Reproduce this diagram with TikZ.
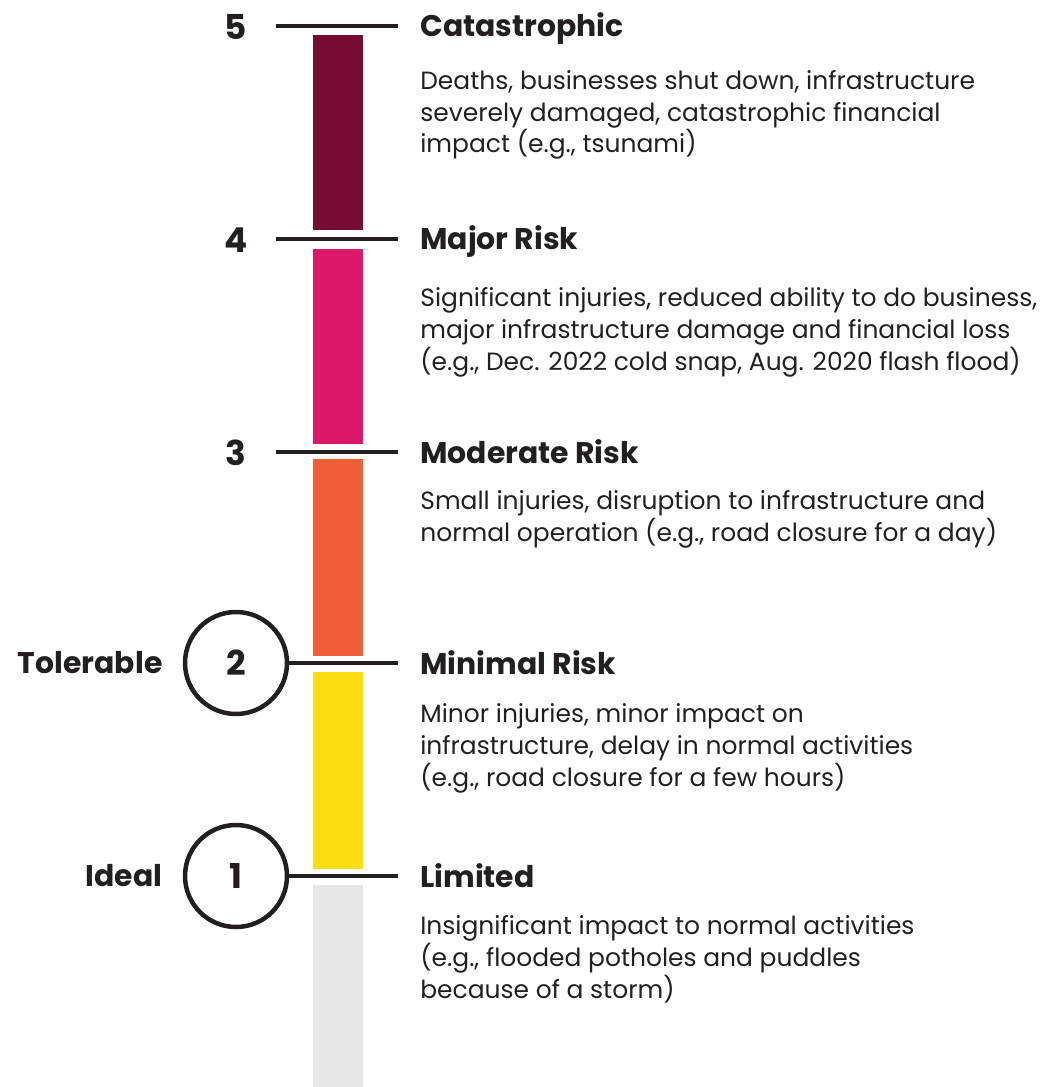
\documentclass[tikz,border=0pt]{standalone}
\usepackage{fontspec}
\setmainfont{Poppins}
\usetikzlibrary{positioning}
\usepackage{xcolor}
\definecolor{ink}{HTML}{231F20}
\definecolor{riskfive}{HTML}{760C31}
\definecolor{riskfour}{HTML}{DC1868}
\definecolor{riskthree}{HTML}{F15E37}
\definecolor{risktwo}{HTML}{FBDE10}
\definecolor{riskone}{HTML}{E6E7E6}

\begin{document}
\begin{tikzpicture}[
  x=0.02cm, y=-0.02cm,
  tick/.style={draw=ink, line width=0.095cm},
  lvl/.style={text=ink, inner sep=0pt, font=\fontsize{17}{20}\selectfont\bfseries},
  num/.style={lvl, font=\fontsize{19.5}{22}\selectfont\bfseries},
  ring/.style={num, circle, draw=ink, line width=0.09cm, minimum size=2.04cm},
  head/.style={lvl, anchor=base west},
  desc/.style={anchor=base west, align=left, text=ink, inner sep=0pt,
               font=\fontsize{14.2}{18.14}\selectfont},
  side/.style={lvl}
]
  \useasboundingbox (0,0) rectangle (1049,1087);

  % Scale bars
  \fill[riskfive]  (313,35)  rectangle (363,230);
  \fill[riskfour]  (313,249) rectangle (363,444);
  \fill[riskthree] (313,459) rectangle (363,656);
  \fill[risktwo]   (313,672) rectangle (363,869);
  \fill[riskone]   (313,885) rectangle (363,1087);

  % Levels
  \node[num]  (n5) at (236,27)  {5};
  \node[num]  (n4) at (236,240) {4};
  \node[num]  (n3) at (236,453) {3};
  \node[ring] (n2) at (236,663) {2};
  \node[ring] (n1) at (236,876) {1};

  \coordinate (s5) at (276,26);  \coordinate (e5) at (398,26);
  \coordinate (s4) at (276,239); \coordinate (e4) at (398,239);
  \coordinate (s3) at (276,452); \coordinate (e3) at (398,452);
  \coordinate (e2) at (398,663);
  \coordinate (e1) at (398,876);

  \draw[tick] (s5) -- (e5);
  \draw[tick] (s4) -- (e4);
  \draw[tick] (s3) -- (e3);
  \draw[tick] (n2.east) -- (e2);
  \draw[tick] (n1.east) -- (e1);

  % Tolerance labels
  \node[side, left=0.4cm of n2] (tol) {Tolerable};
  \node[side, left=0.4cm of n1] (ideal) {Ideal};

  % Headings
  \node[head] (h5) at (420,37)  {Catastrophic};
  \node[head] (h4) at (420,250) {Major Risk};
  \node[head] (h3) at (420,463) {Moderate Risk};
  \node[head] (h2) at (420,674) {Minimal Risk};
  \node[head] (h1) at (420,887) {Limited};

  % Descriptions (base = last line)
  \node[desc] (d5) at (420,153) {Deaths, businesses shut down, infrastructure\\severely damaged, catastrophic financial\\impact (e.g., tsunami)};
  \node[desc] (d4) at (420,370) {Significant injuries, reduced ability to do business,\\major infrastructure damage and financial loss\\(e.g., Dec. 2022 cold snap, Aug. 2020 flash flood)};
  \node[desc] (d3) at (420,541) {Small injuries, disruption to infrastructure and\\normal operation (e.g., road closure for a day)};
  \node[desc] (d2) at (420,786) {Minor injuries, minor impact on\\infrastructure, delay in normal activities\\(e.g., road closure for a few hours)};
  \node[desc] (d1) at (420,998) {Insignificant impact to normal activities\\(e.g., flooded potholes and puddles\\because of a storm)};

\end{tikzpicture}
\end{document}
